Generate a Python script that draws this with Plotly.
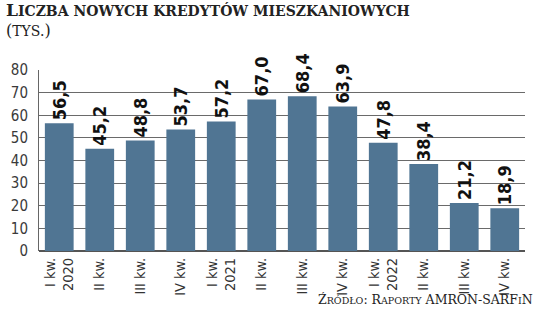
import plotly.graph_objects as go

categories = ["I kw.<br>2020", "II kw.", "III kw.", "IV kw.",
              "I kw.<br>2021", "II kw.", "III kw.", "IV kw.",
              "I kw.<br>2022", "II kw.", "III kw.", "IV kw."]
values = [56.5, 45.2, 48.8, 53.7, 57.2, 67.0, 68.4, 63.9, 47.8, 38.4, 21.2, 18.9]
value_labels = [f"{v:.1f}".replace(".", ",") for v in values]
y_ticks = [0, 10, 20, 30, 40, 50, 60, 70, 80]

W, H = 536, 317
L, R, T, B = 29, 11, 69.5, 65.5
pw, ph = W - L - R, H - T - B

def px_x(p):
    return (p - L) / pw

def px_y(p):
    return (H - B - p) / ph

cond = "DejaVu Sans Condensed"
serif = "DejaVu Serif, Liberation Serif"

def small_caps(big, rest, small_size):
    return big + f"<span style='font-size:{small_size}px'>" + rest + "</span>"

title_text = "<b>" + small_caps("L", "ICZBA NOWYCH KREDYTÓW MIESZKANIOWYCH", 14) + "</b>"
unit_text = "(<span style='font-size:14px'>TYS.</span>)"
source_text = (small_caps("Ź", "RÓDŁO", 9.5) + ": " + small_caps("R", "APORTY", 9.5)
               + " AMRON-SARF<span style='font-size:9.5px'>I</span>N")

fig = go.Figure(go.Bar(
    x=list(range(len(categories))),
    y=values,
    marker=dict(color="#507593", line=dict(width=0)),
    width=0.71,
    text=value_labels,
    textposition="outside",
    textangle=-90,
    constraintext="none",
    cliponaxis=False,
    textfont=dict(family=cond, size=18, color="#111", weight="bold"),
))

fig.update_layout(
    width=W, height=H,
    margin=dict(l=L, r=R, t=T, b=B, pad=0),
    paper_bgcolor="white", plot_bgcolor="white",
    showlegend=False,
    bargap=0.29,
    xaxis=dict(
        tickmode="array",
        tickvals=list(range(len(categories))),
        ticktext=categories,
        tickangle=-90,
        range=[-0.5, len(categories) - 0.5],
        showgrid=False, zeroline=False,
        showline=False,
        ticks="",
        ticklabelstandoff=3,
        tickfont=dict(family=cond, size=14.5, color="#333"),
    ),
    yaxis=dict(
        range=[0, 80],
        tickvals=y_ticks,
        showgrid=True, gridcolor="#6a6a6a", gridwidth=1.2,
        zeroline=True, zerolinecolor="#555", zerolinewidth=1.5,
        showline=True, linecolor="#666", linewidth=1,
        ticks="",
        ticklabelstandoff=7,
        tickfont=dict(family=cond, size=15, color="#3a3a3a"),
    ),
    annotations=[
        dict(text=title_text, xref="paper", yref="paper",
             x=px_x(-7), y=px_y(21), xanchor="left", yanchor="bottom", showarrow=False,
             font=dict(family=serif, size=17, color="#222")),
        dict(text=unit_text, xref="paper", yref="paper",
             x=px_x(-7), y=px_y(41), xanchor="left", yanchor="bottom", showarrow=False,
             font=dict(family=serif, size=16, color="#222")),
        dict(text=source_text, xref="paper", yref="paper",
             x=px_x(535), y=px_y(310), xanchor="right", yanchor="bottom", showarrow=False,
             font=dict(family=serif, size=12.5, color="#222")),
    ],
)

fig.write_html("out.html")
